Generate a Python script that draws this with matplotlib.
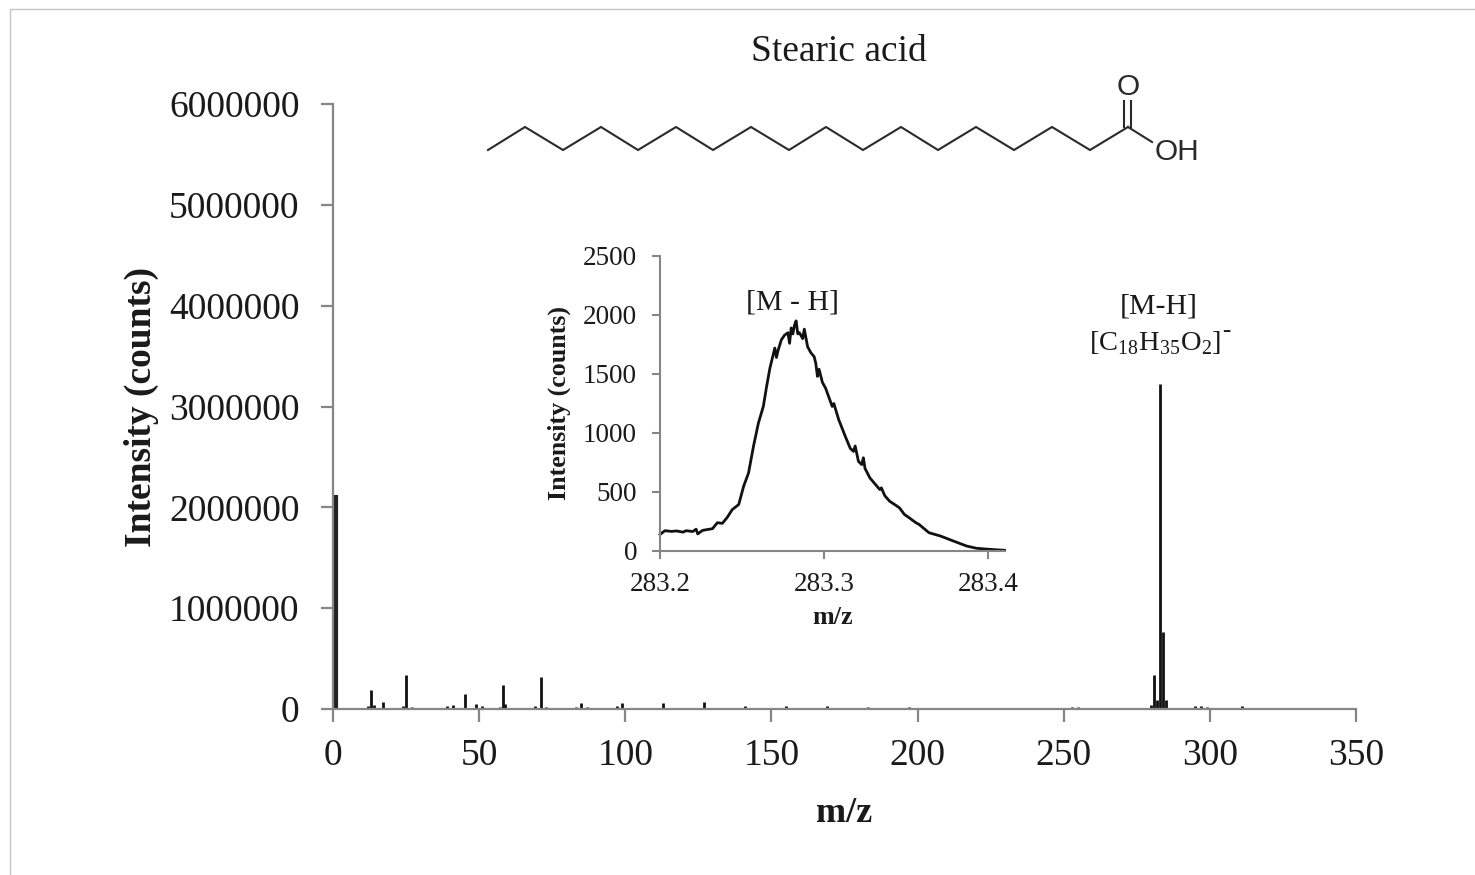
import matplotlib
matplotlib.use("Agg")
import matplotlib.pyplot as plt

plt.rcParams['font.family'] = ['Liberation Serif', 'DejaVu Serif']
plt.rcParams['mathtext.fontset'] = 'custom'
plt.rcParams['mathtext.rm'] = 'Liberation Serif'

W, H = 1475, 875
GRIS = '#868686'
TEXTO = '#1a1a1a'

# Espectro principal
mz = [1, 12, 13, 14, 16, 17, 24, 25, 27, 37, 39, 41, 43, 45, 49, 51, 57, 58, 59, 61, 69, 71, 73, 75,
      83, 85, 87, 97, 99, 113, 127, 141, 155, 169, 183, 197, 211, 227, 241, 253, 255, 269,
      280, 281, 282, 283, 284, 285, 295, 297, 299, 311, 327, 341]
intensidad = [2120000, 30000, 184000, 35000, 12000, 66000, 25000, 333000, 15000, 10000, 28000, 38000, 12000, 149000,
              50000, 28000, 20000, 234000, 50000, 8000, 25000, 317000, 22000, 8000,
              20000, 60000, 20000, 28000, 60000, 60000, 70000, 30000, 30000, 25000, 22000, 20000, 12000, 10000, 10000, 20000, 18000, 8000,
              35000, 340000, 90000, 3220000, 764000, 90000, 25000, 32000, 22000, 25000, 12000, 8000]
y_ticks = [0, 1000000, 2000000, 3000000, 4000000, 5000000, 6000000]
x_ticks = [0, 50, 100, 150, 200, 250, 300, 350]

# Detalle del pico [M - H]
mz_ins = [283.200, 283.203, 283.207, 283.210, 283.214, 283.216, 283.220, 283.222, 283.223, 283.226, 283.232,
          283.235, 283.238, 283.241, 283.244, 283.248, 283.251, 283.254, 283.257, 283.260, 283.263, 283.265,
          283.267, 283.270, 283.271, 283.272, 283.274, 283.276, 283.278, 283.279, 283.280, 283.281, 283.282,
          283.283, 283.284, 283.285, 283.287, 283.288, 283.290, 283.292, 283.294, 283.295, 283.296, 283.297,
          283.299, 283.301, 283.305, 283.306, 283.309, 283.313, 283.316, 283.318, 283.319, 283.321, 283.323,
          283.324, 283.325, 283.328, 283.334, 283.335, 283.337, 283.340, 283.344, 283.346, 283.349, 283.352,
          283.356, 283.358, 283.364, 283.371, 283.379, 283.387, 283.393, 283.401, 283.410]
int_ins = [140, 172, 166, 170, 160, 172, 165, 185, 145, 175, 189,
           240, 234, 285, 350, 394, 549, 662, 887, 1084, 1225, 1394,
           1548, 1720, 1640, 1700, 1790, 1830, 1850, 1760, 1890, 1840, 1914,
           1950, 1840, 1850, 1800, 1880, 1731, 1680, 1647, 1590, 1480, 1540,
           1430, 1379, 1225, 1250, 1112, 971, 870, 844, 890, 760, 732,
           790, 700, 619, 521, 535, 470, 422, 385, 366, 310, 281,
           240, 225, 155, 127, 84, 42, 23, 14, 6]
y_ticks_ins = [0, 500, 1000, 1500, 2000, 2500]
x_ticks_ins = [283.2, 283.3, 283.4]

# Estructura del acido estearico (pixeles de la figura)
cadena_x = [488, 525, 563, 601, 638, 676, 713, 751, 789, 826, 863, 901, 938, 976, 1014, 1052, 1090, 1128]
cadena_y = [150, 127, 150, 127, 150, 127, 150, 127, 150, 127, 150, 127, 150, 127, 150, 127, 150, 127]


def ejes_px(fig, x0, x1, y_top, y_bottom):
    return fig.add_axes([x0 / W, 1 - y_bottom / H, (x1 - x0) / W, (y_bottom - y_top) / H])


def estilo(ax, largo, ancho):
    ax.spines['top'].set_visible(False)
    ax.spines['right'].set_visible(False)
    ax.spines['left'].set_color(GRIS)
    ax.spines['bottom'].set_color(GRIS)
    ax.spines['left'].set_linewidth(ancho)
    ax.spines['bottom'].set_linewidth(ancho)
    ax.tick_params(color=GRIS, length=largo, width=ancho, labelcolor=TEXTO)


fig = plt.figure(figsize=(W / 100, H / 100), dpi=100, facecolor='white')

# Fondo: borde de la pagina y molecula
fondo = fig.add_axes([0, 0, 1, 1])
fondo.set_xlim(0, W)
fondo.set_ylim(H, 0)
fondo.axis('off')
fondo.plot([10, 10, W], [H, 9, 9], color='#c4c4c4', lw=1)
fondo.plot(cadena_x, cadena_y, color='#2a2a2a', lw=1.5, solid_joinstyle='miter')
fondo.plot([1124, 1124], [127, 101], color='#2a2a2a', lw=1.5)
fondo.plot([1131, 1131], [127, 101], color='#2a2a2a', lw=1.5)
fondo.plot([1128, 1152], [127, 142], color='#2a2a2a', lw=1.5)
fondo.text(1128, 87, 'O', family='Liberation Sans', fontsize=21.5, color='#2a2a2a', ha='center', va='center')
fondo.text(1177, 152, 'OH', family='Liberation Sans', fontsize=21.5, color='#2a2a2a', ha='center', va='center')
fondo.text(839, 52, 'Stearic acid', fontsize=27, color=TEXTO, ha='center', va='center')

# Espectro principal
ax = ejes_px(fig, 333, 1356, 104, 709)
ax.patch.set_alpha(0)
ax.vlines(mz, 0, intensidad, color='#111111', lw=2)
ax.vlines(mz[0], 0, intensidad[0], color='#222222', lw=3)
ax.set_xlim(0, 350)
ax.set_ylim(0, 6000000)
ax.set_xticks(x_ticks)
ax.set_yticks(y_ticks)
ax.set_yticklabels([str(v) for v in y_ticks])
estilo(ax, 9, 1.6)
ax.tick_params(labelsize=27)
ax.tick_params(axis='y', pad=15)
ax.tick_params(axis='x', pad=12.5)
fig.text(141 / W, 1 - 407 / H, 'Intensity (counts)', rotation=90, fontsize=27, fontweight='bold',
         color=TEXTO, ha='center', va='center')
fig.text(844 / W, 1 - 813 / H, 'm/z', fontsize=26, fontweight='bold', color=TEXTO, ha='center', va='center')
fig.text(1159 / W, 1 - 307 / H, '[M-H]', fontsize=21.5, color=TEXTO, ha='center', va='center')
fig.text(1155 / W, 1 - 343 / H, r'[C$_{\mathregular{18}}$H$_{\mathregular{35}}$O$_{\mathregular{2}}$]',
         fontsize=20.5, color=TEXTO, ha='center', va='center')
fig.text(1226 / W, 1 - 331 / H, '-', fontsize=18, color=TEXTO, ha='center', va='center')

# Detalle
ins = ejes_px(fig, 660, 988, 256, 551)
ins.patch.set_alpha(0)
ins.plot(mz_ins, int_ins, color='#111111', lw=2, clip_on=False)
ins.set_xlim(283.2, 283.4)
ins.set_ylim(0, 2500)
ins.set_xticks(x_ticks_ins)
ins.set_xticklabels(['283.2', '283.3', '283.4'])
ins.set_yticks(y_ticks_ins)
estilo(ins, 6, 1.5)
ins.spines['bottom'].set_bounds(283.2, 283.41)
ins.tick_params(labelsize=19.5)
ins.tick_params(axis='y', pad=10.5)
ins.tick_params(axis='x', pad=9)
fig.text(559 / W, 1 - 403 / H, 'Intensity (counts)', rotation=90, fontsize=18.7, fontweight='bold',
         color=TEXTO, ha='center', va='center')
fig.text(833 / W, 1 - 618 / H, 'm/z', fontsize=18.7, fontweight='bold', color=TEXTO, ha='center', va='center')
fig.text(793 / W, 1 - 302 / H, '[M - H]', fontsize=21.5, color=TEXTO, ha='center', va='center')

fig.savefig('out.png', dpi=100)
